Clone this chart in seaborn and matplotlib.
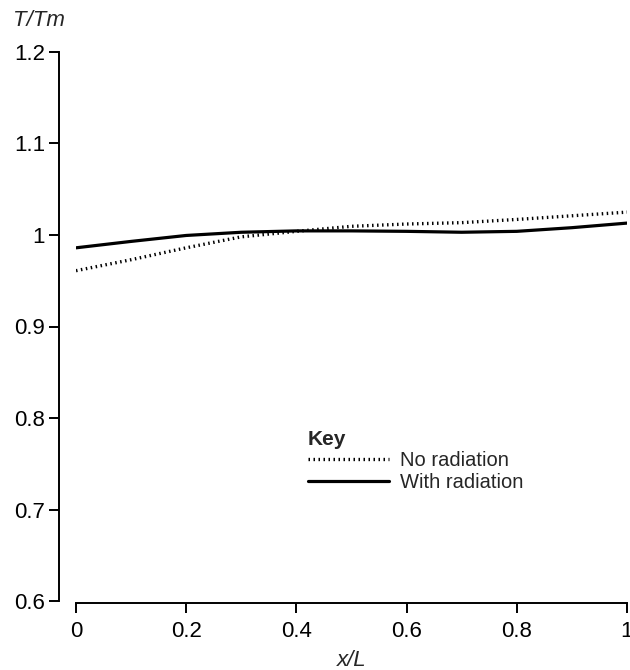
import matplotlib
matplotlib.use("Agg")
import matplotlib.pyplot as plt
import seaborn as sns
import pandas as pd

# === data ===
x_vals = [0.0, 0.1, 0.2, 0.3, 0.4, 0.5, 0.6, 0.7, 0.8, 0.9, 1.0]
no_radiation = [0.961, 0.973, 0.986, 0.998, 1.004, 1.0095, 1.012, 1.0135, 1.017, 1.021, 1.025]
with_radiation = [0.986, 0.993, 0.9995, 1.003, 1.0045, 1.0045, 1.004, 1.003, 1.004, 1.008, 1.013]
series_labels = ["No radiation", "With radiation"]
y_ticks = [0.6, 0.7, 0.8, 0.9, 1.0, 1.1, 1.2]
y_ticklabels = ["0.6", "0.7", "0.8", "0.9", "1", "1.1", "1.2"]
x_ticks = [0, 0.2, 0.4, 0.6, 0.8, 1.0]
x_ticklabels = ["0", "0.2", "0.4", "0.6", "0.8", "1"]

df = pd.DataFrame({
    "x": x_vals * 2,
    "T": no_radiation + with_radiation,
    "case": [series_labels[0]] * len(x_vals) + [series_labels[1]] * len(x_vals),
})

sns.set_style("ticks")
plt.rcParams["font.family"] = ["Liberation Sans", "DejaVu Sans"]

W, H = 630, 670
fig = plt.figure(figsize=(W / 100, H / 100), dpi=100)
ax = fig.add_axes([76 / W, 1 - 601 / H, 551 / W, 549 / H])

sns.lineplot(data=df[df["case"] == series_labels[0]], x="x", y="T", ax=ax,
             color="black", lw=2.4, linestyle=(0, (0.45, 1.05)), label=series_labels[0])
sns.lineplot(data=df[df["case"] == series_labels[1]], x="x", y="T", ax=ax,
             color="black", lw=2.3, label=series_labels[1])

ax.set_xlim(0, 1)
ax.set_ylim(0.6, 1.2)
ax.set_xticks(x_ticks)
ax.set_xticklabels(x_ticklabels)
ax.set_yticks(y_ticks)
ax.set_yticklabels(y_ticklabels)
ax.tick_params(axis="both", direction="out", length=7, width=1.4, labelsize=16,
               color="black", labelcolor="black")
ax.tick_params(axis="x", pad=6)
ax.tick_params(axis="y", pad=3)
ax.set_xlabel("")
ax.set_ylabel("")

for side in ["top", "right"]:
    ax.spines[side].set_visible(False)
# outward offsets are in points (17 px and 2 px at 100 dpi)
ax.spines["left"].set_position(("outward", 12.2))
ax.spines["bottom"].set_position(("outward", 1.5))
for side in ["left", "bottom"]:
    ax.spines[side].set_linewidth(1.4)
    ax.spines[side].set_color("black")

fig.text(13 / W, 1 - 20 / H, "T/Tm", fontsize=16, style="italic", va="center", ha="left")
fig.text(352 / W, 1 - 660 / H, "x/L", fontsize=16, style="italic", va="center", ha="center")

leg = ax.legend(loc="upper left", bbox_to_anchor=(298 / W, 1 - 420 / H),
                bbox_transform=fig.transFigure, frameon=False, fontsize=14.5,
                handlelength=4.0, handletextpad=0.55, labelspacing=0.12,
                borderpad=0, title="Key", alignment="left")
leg.get_title().set_fontsize(15)
leg.get_title().set_fontweight("bold")

fig.savefig("out.png", dpi=100)
